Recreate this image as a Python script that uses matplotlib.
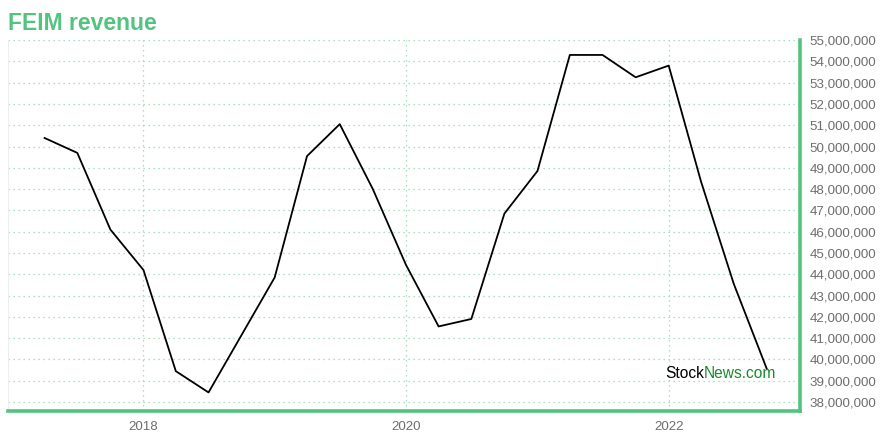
import matplotlib

matplotlib.use("Agg")
import matplotlib.dates as mdates
import matplotlib.pyplot as plt
import matplotlib.ticker as mticker
import pandas as pd

# Quarterly revenue
quarters = pd.to_datetime([
    "2017-04-01", "2017-07-01", "2017-10-01", "2018-01-01",
    "2018-04-01", "2018-07-01", "2018-10-01", "2019-01-01",
    "2019-04-01", "2019-07-01", "2019-10-01", "2020-01-01",
    "2020-04-01", "2020-07-01", "2020-10-01", "2021-01-01",
    "2021-04-01", "2021-07-01", "2021-10-01", "2022-01-01",
    "2022-04-01", "2022-07-01", "2022-10-01",
])
revenue = [
    50.4, 49.7, 46.1, 44.2,
    39.45, 38.45, 41.15, 43.85,
    49.55, 51.05, 48.0, 44.45,
    41.55, 41.9, 46.85, 48.85,
    54.3, 54.3, 53.25, 53.8,
    48.35, 43.55, 39.55,
]
revenue = [v * 1e6 for v in revenue]

GREEN = "#52c47f"
GRID = "#8fd8ae"
TICK = "#6e6e6e"

plt.rcParams["font.family"] = ["Liberation Sans", "DejaVu Sans"]

fig = plt.figure(figsize=(8.8, 4.4), dpi=100)
ax = fig.add_axes([0.009, 0.066, 0.9, 0.843])

ax.plot(quarters, revenue, color="black", lw=1.3)

ax.set_xlim(pd.Timestamp("2016-12-20"), pd.Timestamp("2023-01-01"))
ax.set_ylim(37.58e6, 55e6)

ax.yaxis.tick_right()
ax.yaxis.set_major_locator(mticker.MultipleLocator(1e6))
ax.yaxis.set_major_formatter(mticker.FuncFormatter(lambda v, _: f"{v:,.0f}"))
ax.xaxis.set_major_locator(mdates.YearLocator(2))
ax.xaxis.set_major_formatter(mdates.DateFormatter("%Y"))
ax.tick_params(axis="both", length=0, labelsize=9.6, labelcolor=TICK)
ax.tick_params(axis="y", pad=7)
ax.tick_params(axis="x", pad=7)

ax.grid(True, color=GRID, linestyle=(0, (1, 3)), lw=0.9)

ax.spines["top"].set_visible(False)
ax.spines["left"].set_color("#eeeeee")
ax.spines["left"].set_linewidth(0.8)
ax.spines["bottom"].set_color(GREEN)
ax.spines["bottom"].set_linewidth(2.6)
ax.spines["right"].set_color(GREEN)
ax.spines["right"].set_linewidth(2.6)

fig.text(0.009, 0.947, "FEIM revenue", color=GREEN, fontsize=16.5,
         fontweight="bold", va="center", ha="left")

stock = ax.text(0.830, 0.102, "Stock", transform=ax.transAxes, fontsize=11.2,
                color="black", va="center", ha="left")
ax.annotate("News.com", xy=(1, 0.5), xycoords=stock, fontsize=11.2,
            color="#1a8a2e", va="center", ha="left")

fig.savefig("out.png", dpi=100)
